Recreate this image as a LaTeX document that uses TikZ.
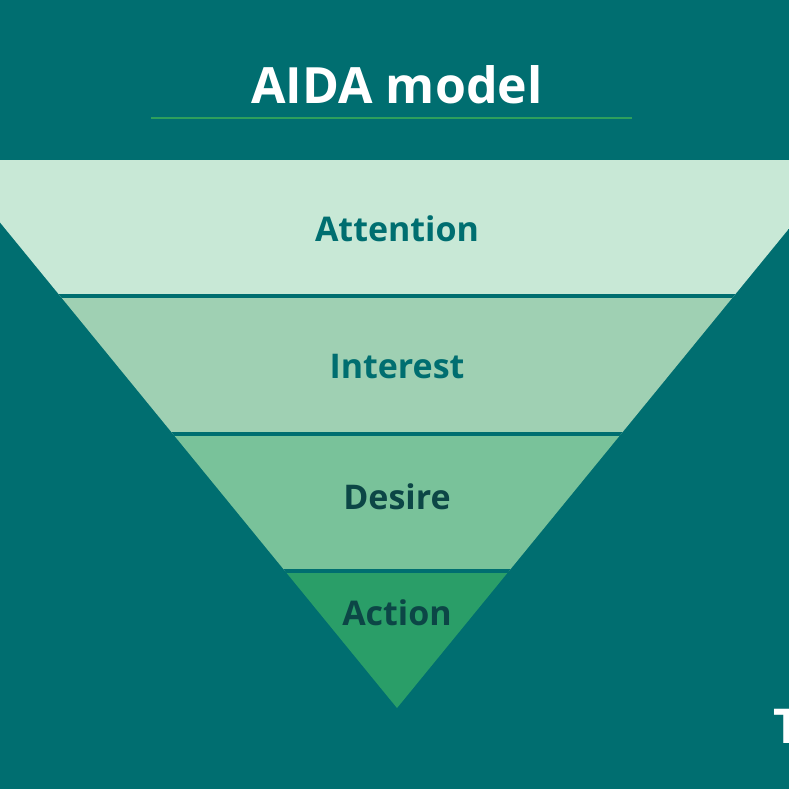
\documentclass[tikz,border=0pt]{standalone}
\usepackage{fontspec}
\setmainfont{Open Sans}
\begin{document}
\begin{tikzpicture}[x=1pt, y=-1pt]
    % Couleurs
    \definecolor{colorBG}{RGB}{0,110,112}
    \definecolor{colorLine}{RGB}{46,160,92}
    \definecolor{colorA}{RGB}{200,232,214}
    \definecolor{colorI}{RGB}{159,208,179}
    \definecolor{colorD}{RGB}{121,194,154}
    \definecolor{colorAc}{RGB}{42,158,104}
    \definecolor{colorDark}{RGB}{12,70,70}
    \tikzset{
        label/.style={font=\bfseries\fontsize{34}{34}\selectfont, anchor=base},
        gap/.style={draw=colorBG, line width=4pt}
    }

    % Fond
    \fill[colorBG] (0,0) rectangle (789,789);
    \clip (0,0) rectangle (789,789);

    % Titre
    \node[white, font=\bfseries\fontsize{50}{50}\selectfont, anchor=base] (title) at (397,104) {AIDA model};
    \draw[colorLine, line width=2pt] (151,118) -- (632,118);

    % Entonnoir
    \begin{scope}
        \clip (-51,160) -- (845,160) -- (397,708) -- cycle;
        \fill[colorA]  (-60,160) rectangle (860,296);
        \fill[colorI]  (-60,296) rectangle (860,434);
        \fill[colorD]  (-60,434) rectangle (860,571);
        \fill[colorAc] (-60,571) rectangle (860,720);
        \foreach \y in {296,434,571}{
            \draw[gap] (-60,\y) -- (860,\y);
        }
    \end{scope}

    % Etiquettes
    \node[label, colorBG]   (attention) at (397,241) {Attention};
    \node[label, colorBG]   (interest)  at (397,378) {Interest};
    \node[label, colorDark] (desire)    at (397,509) {Desire};
    \node[label, colorDark] (action)    at (397,625) {Action};

    % Texte coupé au bord (comme dans l'original)
    \node[white, font=\bfseries\fontsize{48}{48}\selectfont, anchor=base west, inner sep=0pt] (cut) at (773,743) {T};
\end{tikzpicture}
\end{document}
